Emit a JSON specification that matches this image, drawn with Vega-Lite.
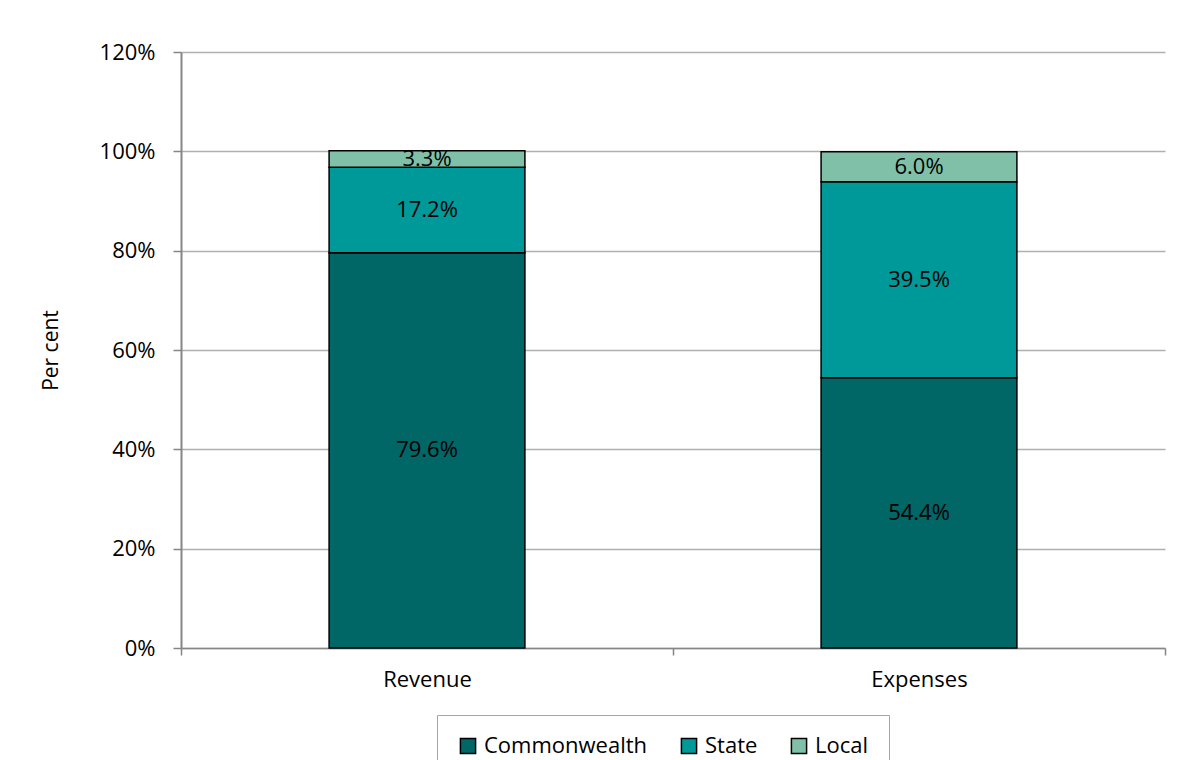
{
  "$schema": "https://vega.github.io/schema/vega-lite/v6.json",
  "width": 984,
  "height": 596,
  "autosize": {"type": "none"},
  "padding": {"left": 181, "top": 52, "right": 19, "bottom": 112},
  "background": "white",
  "config": {
    "font": "Open Sans",
    "view": {"stroke": null},
    "axis": {"labelFont": "Open Sans", "titleFont": "Open Sans", "labelColor": "black", "titleColor": "black", "labelFontSize": 22, "titleFontSize": 21, "titleFontWeight": "normal"},
    "legend": {"labelFont": "Open Sans", "labelFontSize": 22, "labelColor": "black", "labelLimit": 400}
  },
  "data": {
    "values": [
      {"cat": "Revenue", "level": "Commonwealth", "ord": 1, "value": 0.796, "label": "79.6%"},
      {"cat": "Revenue", "level": "State", "ord": 2, "value": 0.172, "label": "17.2%"},
      {"cat": "Revenue", "level": "Local", "ord": 3, "value": 0.033, "label": "3.3%"},
      {"cat": "Expenses", "level": "Commonwealth", "ord": 1, "value": 0.544, "label": "54.4%"},
      {"cat": "Expenses", "level": "State", "ord": 2, "value": 0.395, "label": "39.5%"},
      {"cat": "Expenses", "level": "Local", "ord": 3, "value": 0.06, "label": "6.0%"}
    ]
  },
  "transform": [
    {"stack": "value", "groupby": ["cat"], "sort": [{"field": "ord", "order": "ascending"}], "as": ["v0", "v1"]},
    {"calculate": "(datum.v0 + datum.v1) / 2", "as": "mid"}
  ],
  "encoding": {
    "x": {
      "field": "cat", "type": "nominal", "sort": ["Revenue", "Expenses"],
      "scale": {"paddingInner": 0, "paddingOuter": 0},
      "axis": {"title": null, "labelAngle": 0, "tickBand": "extent", "domainColor": "#868686", "domainWidth": 1.5, "tickColor": "#868686", "tickWidth": 1.5, "tickSize": 7, "labelPadding": 14, "grid": false}
    }
  },
  "layer": [
    {
      "mark": {"type": "bar", "width": {"band": 0.398}, "stroke": "black", "strokeWidth": 1.5},
      "encoding": {
        "y": {
          "field": "v0", "type": "quantitative",
          "scale": {"domain": [0, 1.2], "nice": false},
          "axis": {"title": "Per cent", "format": ".0%", "values": [0, 0.2, 0.4, 0.6, 0.8, 1.0, 1.2], "grid": true, "gridColor": "#b0b0b0", "gridWidth": 1.5, "domainColor": "#868686", "domainWidth": 2, "tickColor": "#868686", "tickWidth": 1.5, "tickSize": 8, "labelPadding": 18, "titlePadding": 38}
        },
        "y2": {"field": "v1"},
        "color": {
          "field": "level", "type": "nominal",
          "scale": {"domain": ["Commonwealth", "State", "Local"], "range": ["#006666", "#009999", "#80c0a8"]},
          "legend": {"title": null, "orient": "none", "legendX": 256, "legendY": 663, "direction": "horizontal", "symbolType": "square", "symbolSize": 230, "symbolStrokeColor": "black", "symbolStrokeWidth": 1.5, "symbolOpacity": 1, "strokeColor": "#a6a6a6", "padding": 20, "columnPadding": 30, "labelOffset": 5}
        }
      }
    },
    {
      "mark": {"type": "text", "fontSize": 22, "color": "black", "font": "Open Sans", "baseline": "middle", "align": "center"},
      "encoding": {
        "y": {"field": "mid", "type": "quantitative"},
        "text": {"field": "label"}
      }
    }
  ]
}
